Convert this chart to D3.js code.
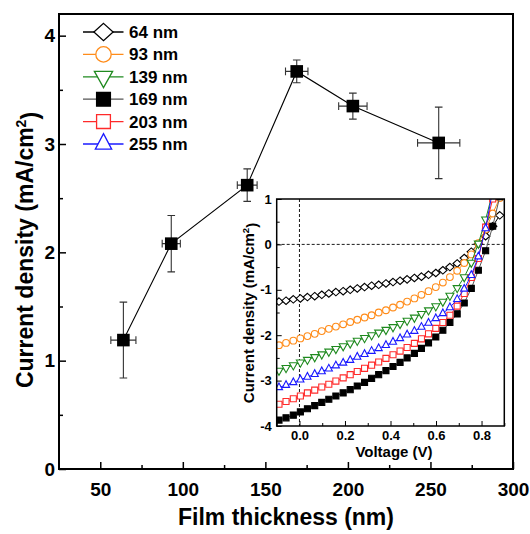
<!DOCTYPE html>
<html>
<head>
<meta charset="utf-8">
<script src="https://cdn.jsdelivr.net/npm/d3@7"></script>
<style>
  html, body { margin: 0; padding: 0; background: #fff; }
  svg { display: block; }
  text { font-family: "Liberation Sans", Arial, Helvetica, sans-serif; font-weight: bold; fill: #000; }
</style>
</head>
<body>
<svg id="chart" width="530" height="534"></svg>
<script>
// ---- Main plot: short-circuit current density vs. film thickness ----
const thickness    = [64, 93, 139, 169, 203, 255];
const density      = [1.19, 2.08, 2.62, 3.67, 3.35, 3.01];
const densityErr   = [0.35, 0.26, 0.15, 0.105, 0.12, 0.33];
const thicknessErr = [7.6, 5.5, 6.0, 6.8, 8.6, 12.8];
const mainXTicks = [50, 100, 150, 200, 250, 300];
const mainXMinor = [75, 125, 175, 225, 275];
const mainYTicks = [0, 1, 2, 3, 4];
const mainYMinor = [0.5, 1.5, 2.5, 3.5];

// ---- Inset: J-V curves for each film thickness ----
const voltage = [-0.090, -0.059, -0.027, 0.004, 0.035, 0.067, 0.098, 0.129, 0.160, 0.192,
                  0.223, 0.254, 0.286, 0.317, 0.348, 0.380, 0.411, 0.442, 0.473, 0.505,
                  0.536, 0.567, 0.599, 0.630, 0.661, 0.693, 0.724, 0.755, 0.786, 0.818,
                  0.849, 0.880];
const jv64  = [-1.26, -1.24, -1.21, -1.19, -1.16, -1.14, -1.11, -1.08, -1.05, -1.03,
               -1.00, -0.97, -0.94, -0.91, -0.89, -0.86, -0.83, -0.80, -0.77, -0.74,
               -0.71, -0.67, -0.63, -0.57, -0.50, -0.42, -0.30, -0.16, 0.01, 0.18,
                0.40, 0.64];
const jv93  = [-2.22, -2.17, -2.12, -2.07, -2.02, -1.97, -1.91, -1.86, -1.81, -1.76,
               -1.71, -1.66, -1.61, -1.56, -1.50, -1.45, -1.39, -1.33, -1.26, -1.19,
               -1.11, -1.03, -0.94, -0.84, -0.72, -0.58, -0.41, -0.22, 0.03, 0.33,
                0.68, 1.02];
const jv139 = [-2.78, -2.72, -2.66, -2.60, -2.54, -2.48, -2.42, -2.36, -2.30, -2.24,
               -2.18, -2.12, -2.06, -2.00, -1.94, -1.88, -1.82, -1.75, -1.68, -1.61,
               -1.53, -1.45, -1.36, -1.26, -1.13, -0.96, -0.72, -0.40, 0.02, 0.55,
                1.15, 1.75];
const jv169 = [-3.87, -3.82, -3.76, -3.69, -3.62, -3.55, -3.48, -3.41, -3.34, -3.27,
               -3.20, -3.12, -3.04, -2.95, -2.87, -2.78, -2.69, -2.60, -2.50, -2.40,
               -2.29, -2.17, -2.04, -1.89, -1.72, -1.53, -1.29, -0.97, -0.57, -0.14,
                0.40, 1.05];
const jv203 = [-3.52, -3.46, -3.40, -3.34, -3.27, -3.21, -3.14, -3.08, -3.01, -2.94,
               -2.87, -2.80, -2.73, -2.66, -2.59, -2.51, -2.43, -2.35, -2.27, -2.18,
               -2.08, -1.97, -1.85, -1.72, -1.56, -1.36, -1.08, -0.73, -0.31, 0.38,
                1.00, 1.65];
const jv255 = [-3.15, -3.10, -3.04, -2.98, -2.92, -2.86, -2.80, -2.74, -2.67, -2.61,
               -2.55, -2.48, -2.42, -2.35, -2.29, -2.22, -2.15, -2.07, -1.99, -1.91,
               -1.82, -1.73, -1.63, -1.52, -1.39, -1.21, -0.98, -0.68, -0.27, 0.35,
                1.20, 2.05];
const insetXTicks = [0.0, 0.2, 0.4, 0.6, 0.8];
const insetXMinor = [-0.1, 0.1, 0.3, 0.5, 0.7, 0.9];
const insetYTicks = [-4, -3, -2, -1, 0, 1];
const insetYMinor = [-3.5, -2.5, -1.5, -0.5, 0.5];

const seriesLabels = ["64 nm", "93 nm", "139 nm", "169 nm", "203 nm", "255 nm"];
const seriesColors = ["#000000", "#ff8c1a", "#1f8a1f", "#000000", "#ff2a2a", "#1a1aff"];
const seriesLineColors = ["#000000", "#ff8c1a", "#1f8a1f", "#555555", "#ff2a2a", "#1a1aff"];
const seriesShapes = ["diamond", "circle", "triDown", "square", "square", "triUp"];
const seriesFilled = [false, false, false, true, false, false];
const seriesJ = [jv64, jv93, jv139, jv169, jv203, jv255];

// marker outline around (0,0); s scales the shape
function shapePath(shape, s) {
  switch (shape) {
    case "diamond": return `M0,${-0.9*s}L${s},0L0,${0.9*s}L${-s},0Z`;
    case "circle": { const r = 0.8*s; return `M${r},0A${r},${r} 0 1,1 ${-r},0A${r},${r} 0 1,1 ${r},0Z`; }
    case "square": { const h = 0.72*s; return `M${-h},${-h}H${h}V${h}H${-h}Z`; }
    case "triDown": { const w = 0.95*s, h = 1.7*s; return `M${-w},${-h/3}L${w},${-h/3}L0,${2*h/3}Z`; }
    case "triUp": { const w = 0.85*s, h = 1.6*s; return `M${-w},${h/3}L${w},${h/3}L0,${-2*h/3}Z`; }
  }
}

// plain hyphen for negative tick labels
const hyphenInt = d => String(d);

const svg = d3.select("#chart");

// ---------- main plot ----------
const mx = d3.scaleLinear().domain([25, 300]).range([59, 513]);
const my = d3.scaleLinear().domain([0, 4.2]).range([469, 14]);

const gx = svg.append("g").attr("transform", "translate(0,469)")
  .call(d3.axisBottom(mx).tickValues(mainXTicks).tickSizeInner(-7).tickSizeOuter(0).tickPadding(14)
        .tickFormat(d3.format("d")));
gx.select(".domain").remove();
gx.selectAll("text").style("font-size", "19px");
gx.selectAll("line").attr("stroke-width", 1.5);
const gxm = svg.append("g").attr("transform", "translate(0,469)")
  .call(d3.axisBottom(mx).tickValues(mainXMinor).tickSizeInner(-4).tickSizeOuter(0).tickFormat(""));
gxm.select(".domain").remove();
gxm.selectAll("line").attr("stroke-width", 1.5);

const gy = svg.append("g").attr("transform", "translate(59,0)")
  .call(d3.axisLeft(my).tickValues(mainYTicks).tickSizeInner(-7).tickSizeOuter(0).tickPadding(4)
        .tickFormat(d3.format("d")));
gy.select(".domain").remove();
gy.selectAll("text").style("font-size", "19px");
gy.selectAll("line").attr("stroke-width", 1.5);
const gym = svg.append("g").attr("transform", "translate(59,0)")
  .call(d3.axisLeft(my).tickValues(mainYMinor).tickSizeInner(-4).tickSizeOuter(0).tickFormat(""));
gym.select(".domain").remove();
gym.selectAll("line").attr("stroke-width", 1.5);

svg.append("rect")
  .attr("x", mx(25)).attr("y", my(4.2))
  .attr("width", mx(300) - mx(25)).attr("height", my(0) - my(4.2))
  .attr("fill", "none").attr("stroke", "#000").attr("stroke-width", 2);

// axis titles
svg.append("text").attr("x", 286).attr("y", 525).attr("text-anchor", "middle")
  .style("font-size", "23px").text("Film thickness (nm)");
const yt = svg.append("text").attr("transform", "translate(33,250) rotate(-90)")
  .attr("text-anchor", "middle").style("font-size", "23px");
yt.append("tspan").text("Current density (mA/cm");
yt.append("tspan").attr("dy", "-0.5em").style("font-size", "14px").text("2");
yt.append("tspan").attr("dy", "0.5em").text(")");

// connecting line
const mainPts = thickness.map((t, i) => ({ t, j: density[i], ej: densityErr[i], et: thicknessErr[i] }));
svg.append("path").datum(mainPts)
  .attr("d", d3.line().x(d => mx(d.t)).y(d => my(d.j)))
  .attr("fill", "none").attr("stroke", "#000").attr("stroke-width", 1.1);

// error bars
const eb = svg.append("g").attr("stroke", "#333").attr("stroke-width", 1.1).attr("fill", "none");
mainPts.forEach(d => {
  const cx = mx(d.t), cy = my(d.j);
  const y1 = my(d.j + d.ej), y2 = my(d.j - d.ej);
  const x1 = mx(d.t - d.et), x2 = mx(d.t + d.et);
  eb.append("path").attr("d",
    `M${cx},${y1}V${y2}M${cx-3.8},${y1}H${cx+3.8}M${cx-3.8},${y2}H${cx+3.8}` +
    `M${x1},${cy}H${x2}M${x1},${cy-3.8}V${cy+3.8}M${x2},${cy-3.8}V${cy+3.8}`);
});
svg.append("g").selectAll("rect").data(mainPts).join("rect")
  .attr("x", d => mx(d.t) - 6.3).attr("y", d => my(d.j) - 6.3)
  .attr("width", 12.6).attr("height", 12.6).attr("fill", "#000");

// legend
const legRows = [32, 54.4, 76.8, 99.2, 121.6, 144.0];
const leg = svg.append("g");
seriesLabels.forEach((lab, i) => {
  const y = legRows[i];
  leg.append("line").attr("x1", 83).attr("x2", 123.5).attr("y1", y).attr("y2", y)
    .attr("stroke", seriesLineColors[i]).attr("stroke-width", 1.3);
  leg.append("path").attr("transform", `translate(103.5,${y})`)
    .attr("d", shapePath(seriesShapes[i], 9.6))
    .attr("fill", seriesFilled[i] ? "#000" : "#fff")
    .attr("stroke", seriesColors[i]).attr("stroke-width", 1.3);
  leg.append("text").attr("x", 129).attr("y", y + 6).style("font-size", "17px").text(lab);
});

// ---------- inset ----------
const ix = d3.scaleLinear().domain([-0.1, 0.9]).range([276.7, 504.3]);
const iy = d3.scaleLinear().domain([-4, 1]).range([426, 199]);

svg.append("rect").attr("x", ix(-0.1)).attr("y", iy(1))
  .attr("width", ix(0.9) - ix(-0.1)).attr("height", iy(-4) - iy(1)).attr("fill", "#fff");

svg.append("clipPath").attr("id", "insetClip").append("rect")
  .attr("x", ix(-0.1)).attr("y", iy(1))
  .attr("width", ix(0.9) - ix(-0.1)).attr("height", iy(-4) - iy(1));

// reference lines at J = 0 and V = 0
svg.append("line").attr("x1", ix(-0.1)).attr("x2", ix(0.9)).attr("y1", iy(0)).attr("y2", iy(0))
  .attr("stroke", "#000").attr("stroke-width", 0.9).attr("stroke-dasharray", "3,2");
svg.append("line").attr("x1", ix(0)).attr("x2", ix(0)).attr("y1", iy(1)).attr("y2", iy(-4))
  .attr("stroke", "#000").attr("stroke-width", 0.9).attr("stroke-dasharray", "3,2");

const ixa = svg.append("g").attr("transform", `translate(0,${iy(-4)})`)
  .call(d3.axisBottom(ix).tickValues(insetXTicks).tickSizeInner(-5).tickSizeOuter(0).tickPadding(5)
        .tickFormat(d3.format(".1f")));
ixa.select(".domain").remove();
ixa.selectAll("text").style("font-size", "13px");
const ixm = svg.append("g").attr("transform", `translate(0,${iy(-4)})`)
  .call(d3.axisBottom(ix).tickValues(insetXMinor).tickSizeInner(-3).tickSizeOuter(0).tickFormat(""));
ixm.select(".domain").remove();

const iya = svg.append("g").attr("transform", `translate(${ix(-0.1)},0)`)
  .call(d3.axisLeft(iy).tickValues(insetYTicks).tickSizeInner(-5).tickSizeOuter(0).tickPadding(5)
        .tickFormat(hyphenInt));
iya.select(".domain").remove();
iya.selectAll("text").style("font-size", "13px");
const iym = svg.append("g").attr("transform", `translate(${ix(-0.1)},0)`)
  .call(d3.axisLeft(iy).tickValues(insetYMinor).tickSizeInner(-3).tickSizeOuter(0).tickFormat(""));
iym.select(".domain").remove();

// curves
const plot = svg.append("g").attr("clip-path", "url(#insetClip)");
seriesJ.forEach((js, i) => {
  const pts = voltage.map((v, k) => [v, js[k]]);
  plot.append("path").datum(pts)
    .attr("d", d3.line().x(d => ix(d[0])).y(d => iy(d[1])))
    .attr("fill", "none").attr("stroke", seriesLineColors[i]).attr("stroke-width", 1);
  plot.append("g").selectAll("path").data(pts).join("path")
    .attr("transform", d => `translate(${ix(d[0])},${iy(d[1])})`)
    .attr("d", shapePath(seriesShapes[i], 4.2))
    .attr("fill", seriesFilled[i] ? "#000" : "#fff")
    .attr("stroke", seriesColors[i]).attr("stroke-width", 1.1);
});

svg.append("rect").attr("x", ix(-0.1)).attr("y", iy(1))
  .attr("width", ix(0.9) - ix(-0.1)).attr("height", iy(-4) - iy(1))
  .attr("fill", "none").attr("stroke", "#000").attr("stroke-width", 1.5);

svg.append("text").attr("x", 394).attr("y", 457).attr("text-anchor", "middle")
  .style("font-size", "15px").text("Voltage (V)");
const iyt = svg.append("text").attr("transform", "translate(254,313) rotate(-90)")
  .attr("text-anchor", "middle").style("font-size", "15px");
iyt.append("tspan").text("Current density (mA/cm");
iyt.append("tspan").attr("dy", "-0.5em").style("font-size", "9.5px").text("2");
iyt.append("tspan").attr("dy", "0.5em").text(")");
</script>
</body>
</html>
